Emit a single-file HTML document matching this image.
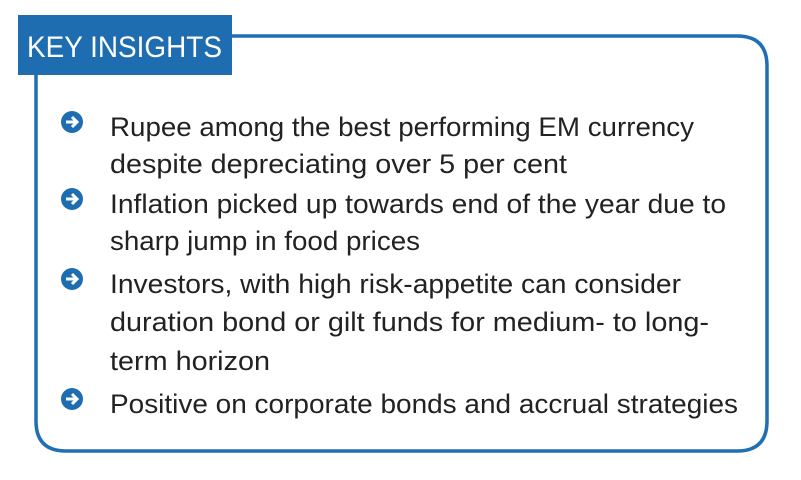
<!DOCTYPE html>
<html><head><meta charset="utf-8"><style>
html,body{margin:0;padding:0;background:#fff;width:801px;height:480px;overflow:hidden}
svg text{font-family:"Liberation Sans",sans-serif}
</style></head><body>
<svg width="801" height="480" viewBox="0 0 801 480">
  <path d="M36 75 V421 Q36 451 66 451 H737 Q767 451 767 421 V66 Q767 36 737 36 H232" fill="none" stroke="#1f6fb2" stroke-width="3.5"/>
  <rect x="18" y="15" width="214" height="60" fill="#1e6db0"/>
  <text x="27" y="57" font-size="30" fill="#fff" textLength="195" lengthAdjust="spacingAndGlyphs">KEY INSIGHTS</text>
  <g fill="#1e6db0">
    <g transform="translate(72,122)"><circle r="11"/><path d="M-6 0 H5 M0 -5 L5 0 L0 5" stroke="#fff" stroke-width="3" fill="none"/></g>
    <g transform="translate(72,199)"><circle r="11"/><path d="M-6 0 H5 M0 -5 L5 0 L0 5" stroke="#fff" stroke-width="3" fill="none"/></g>
    <g transform="translate(72,279)"><circle r="11"/><path d="M-6 0 H5 M0 -5 L5 0 L0 5" stroke="#fff" stroke-width="3" fill="none"/></g>
    <g transform="translate(72,399)"><circle r="11"/><path d="M-6 0 H5 M0 -5 L5 0 L0 5" stroke="#fff" stroke-width="3" fill="none"/></g>
  </g>
  <g font-size="27" fill="#222">
    <text x="110" y="136" textLength="584" lengthAdjust="spacingAndGlyphs">Rupee among the best performing EM currency</text>
    <text x="110" y="173" textLength="457" lengthAdjust="spacingAndGlyphs">despite depreciating over 5 per cent</text>
    <text x="110" y="213" textLength="616" lengthAdjust="spacingAndGlyphs">Inflation picked up towards end of the year due to</text>
    <text x="110" y="250" textLength="310" lengthAdjust="spacingAndGlyphs">sharp jump in food prices</text>
    <text x="110" y="293" textLength="571" lengthAdjust="spacingAndGlyphs">Investors, with high risk-appetite can consider</text>
    <text x="110" y="331" textLength="599" lengthAdjust="spacingAndGlyphs">duration bond or gilt funds for medium- to long-</text>
    <text x="110" y="370" textLength="160" lengthAdjust="spacingAndGlyphs">term horizon</text>
    <text x="110" y="413" textLength="628" lengthAdjust="spacingAndGlyphs">Positive on corporate bonds and accrual strategies</text>
  </g>
</svg>
</body></html>
